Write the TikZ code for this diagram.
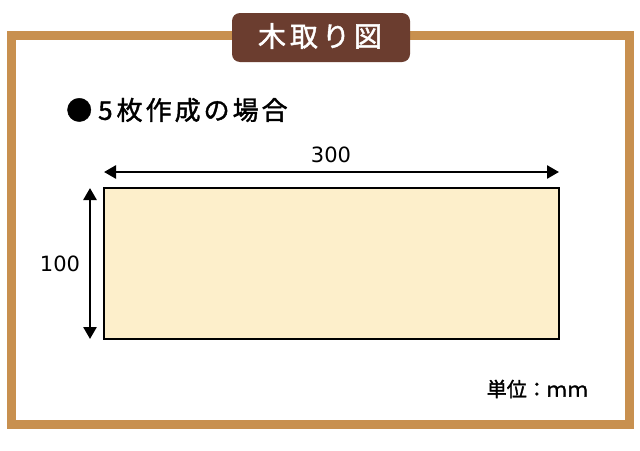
\documentclass[tikz,border=0pt]{standalone}
\usepackage{fontspec}
\setmainfont{Noto Sans CJK JP}
\newfontfamily\medfont{Noto Sans CJK JP}[FakeBold=1.5]
\newfontfamily\numfont{DejaVu Sans}
\usetikzlibrary{arrows.meta}
\definecolor{framec}{HTML}{C8904F}
\definecolor{titlec}{HTML}{6B3D2F}
\definecolor{woodc}{HTML}{FDEFCB}
\tikzset{
  frame/.style={draw=framec, line width=9pt},
  titlebox/.style={fill=titlec, rounded corners=8pt, minimum width=178pt, minimum height=49pt, inner sep=0pt},
  board/.style={draw=black, line width=2.6pt, fill=woodc},
  dim/.style={line width=2.6pt, {Triangle[length=12pt,width=13pt]}-{Triangle[length=12pt,width=13pt]}},
  lbl/.style={inner sep=0pt, font=\numfont\fontsize{21}{24}\selectfont}
}
\begin{document}
\begin{tikzpicture}[x=1pt,y=-1pt]
\useasboundingbox (0,0) rectangle (640,450);
\fill[white] (0,0) rectangle (640,450);
\draw[frame] (11.5,35.5) rectangle (629.5,424.5);
\node[titlebox] (title) at (321,37.5) {};
\node[text=white, inner sep=0pt, font=\medfont\fontsize{28}{30}\selectfont] (titletext) at (320,36) {木\hspace{4pt}取\hspace{4pt}り\hspace{4pt}図};
\node[anchor=west, inner sep=0pt, font=\medfont\fontsize{26}{28}\selectfont] (heading) at (66,110) {●\hspace{6pt}5\hspace{4pt}枚\hspace{3pt}作\hspace{3pt}成\hspace{3pt}の\hspace{3pt}場\hspace{3pt}合};
\node[board, minimum width=455pt, minimum height=151pt, inner sep=0pt] (board) at (331.5,263.5) {};
\coordinate (h1) at (104,172);
\coordinate (h2) at (559,172);
\coordinate (v1) at (90,188);
\coordinate (v2) at (90,339);
\draw[dim] (h1) -- (h2);
\draw[dim] (v1) -- (v2);
\node[lbl] (w) at (331,155) {300};
\node[lbl] (hgt) at (60,264) {100};
\node[anchor=east, inner sep=0pt, font=\medfont\fontsize{20}{24}\selectfont] (unit) at (588,389) {単位：ｍ\hspace{1pt}ｍ};
\end{tikzpicture}
\end{document}
